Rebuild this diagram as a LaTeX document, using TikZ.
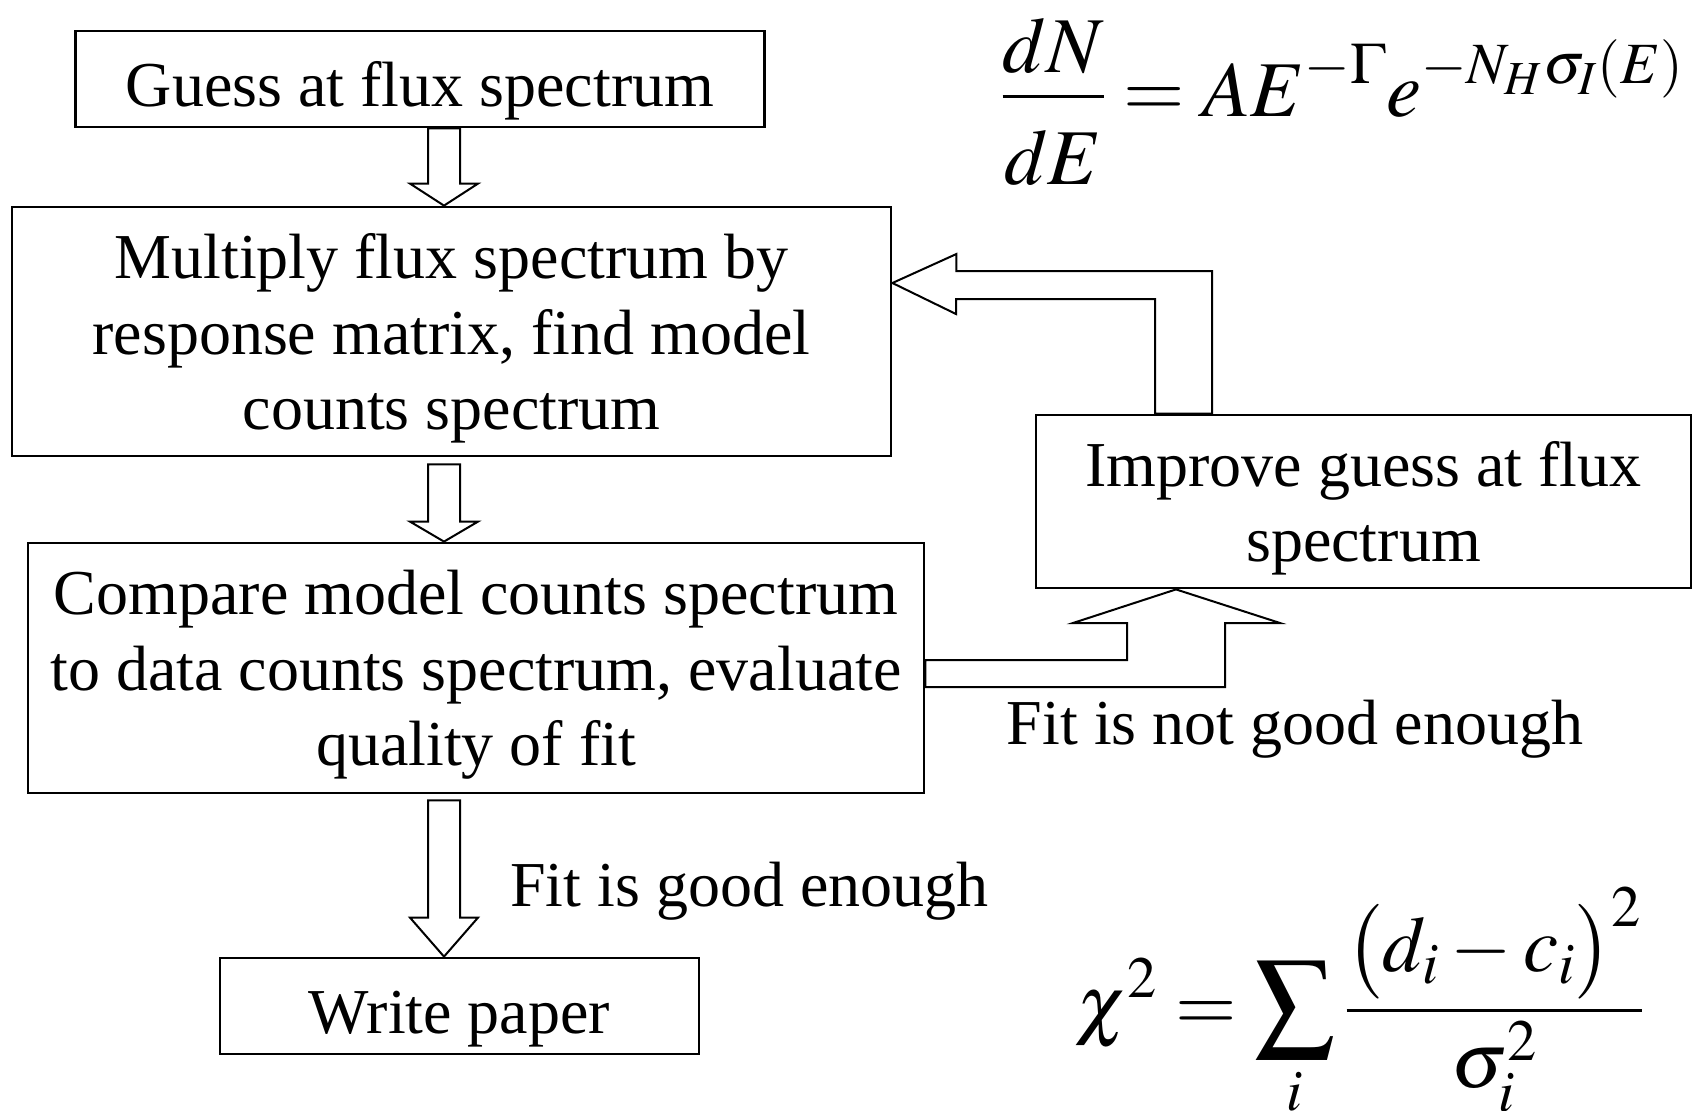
\documentclass[tikz,border=0pt]{standalone}
\usepackage{mathptmx}
\usepackage[no-math]{fontspec}
\setmainfont{Liberation Serif}
\usetikzlibrary{calc}

\begin{document}
\begin{tikzpicture}[x=0.5pt, y=-0.5pt,
  font=\fontsize{32}{37.8}\selectfont,
  blk/.style={draw, line width=1.4pt, align=center, inner sep=0pt, text depth=0pt,
    execute at begin node=\rule{0pt}{27pt}},
  barr/.style={draw, line width=1pt, line join=miter},
  lbl/.style={inner sep=0pt},
  eqn/.style={inner sep=0pt, font=\fontsize{39.5}{47}\selectfont}]
\useasboundingbox (0,0) rectangle (1692,1110);
% boxes of the loop
\node[blk, minimum width=344.5pt, minimum height=48pt] (guess) at (420,79) {Guess at flux spectrum};
\node[blk, minimum width=439.5pt, minimum height=124.5pt] (multiply) at (451.5,331.5) {Multiply flux spectrum by\\response matrix, find model\\counts spectrum};
\node[blk, minimum width=448pt, minimum height=125pt] (compare) at (476,668) {Compare model counts spectrum\\to data counts spectrum, evaluate\\quality of fit};
\node[blk, minimum width=327.5pt, minimum height=86.5pt] (improve) at (1363.5,501.5) {Improve guess at flux\\spectrum};
\node[blk, minimum width=239.5pt, minimum height=48pt] (write) at (459.5,1006) {Write paper};
% formulas
\node[eqn, anchor=base] (flux) at (1342,116) {$\displaystyle \frac{\raisebox{-5pt}{$dN$}}{\raisebox{-7pt}{$dE$}} = AE^{-\Gamma}e^{-N_H\sigma_I(E)}$};
\node[eqn, anchor=base] (chi) at (1360,1030) {$\displaystyle \chi^2 = \sum_i \frac{\bigl(d_i - c_i\bigr)^2}{\sigma_i^2}$};
% labels
\node[lbl, anchor=base] (bad) at (1295,744) {Fit is not good enough};
\node[lbl, anchor=base west] (good) at (510,906) {Fit is good enough};
% block arrows down the column
\coordinate (col) at (444,0);
\foreach \a/\b/\g/\h in {guess/multiply/0/22, multiply/compare/7/20, compare/write/6/39}{
  \draw[barr] (\b.north -| col) -- ++(-34,-\h) -- ++(18,0) |- ($(\a.south -| col)+(0,\g)$) -- ++(16,0) |- ($(\b.north -| col)+(34,-\h)$) -- cycle;
}
% fit not good: compare -> improve
\draw[barr] (1176,0 |- improve.south) -- (1280,623) -- (1225,623) -- (1225,687) -- (compare.east |- 0,687) -- (compare.east |- 0,660) -- (1127,660) -- (1127,623) -- (1073,623) -- cycle;
% improve -> multiply
\draw[barr] (multiply.east |- 0,283) -- ++(64,-29) -- ++(0,17) -- (1212,271) -- (1212,0 |- improve.north) -- (1155,0 |- improve.north) -- (1155,299) -- (956,299) -- (956,314) -- cycle;
\end{tikzpicture}
\end{document}
